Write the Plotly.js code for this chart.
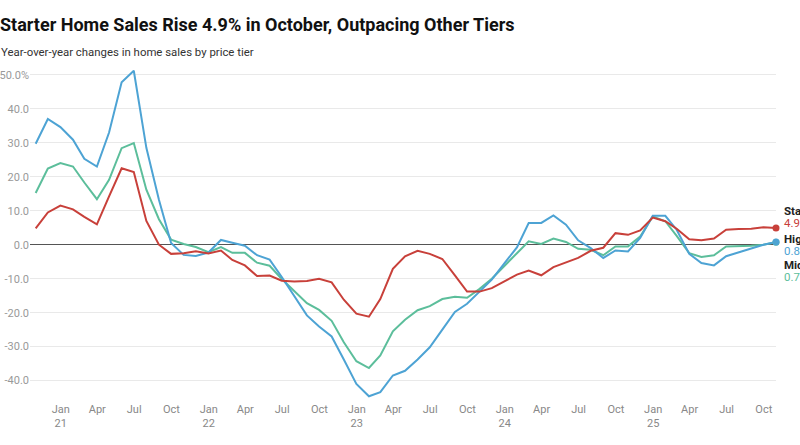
<!DOCTYPE html>
<html>
<head>
<meta charset="utf-8">
<script src="https://cdn.plot.ly/plotly-3.0.1.min.js"></script>
<style>
  html, body { margin: 0; padding: 0; background: #fff; }
  #chart { width: 800px; height: 445px; }
</style>
</head>
<body>
<div id="chart"></div>
<script>
// Months (data month; plotted at month end)
const months = [
  "2020-10","2020-11","2020-12",
  "2021-01","2021-02","2021-03","2021-04","2021-05","2021-06","2021-07","2021-08","2021-09","2021-10","2021-11","2021-12",
  "2022-01","2022-02","2022-03","2022-04","2022-05","2022-06","2022-07","2022-08","2022-09","2022-10","2022-11","2022-12",
  "2023-01","2023-02","2023-03","2023-04","2023-05","2023-06","2023-07","2023-08","2023-09","2023-10","2023-11","2023-12",
  "2024-01","2024-02","2024-03","2024-04","2024-05","2024-06","2024-07","2024-08","2024-09","2024-10","2024-11","2024-12",
  "2025-01","2025-02","2025-03","2025-04","2025-05","2025-06","2025-07","2025-08","2025-09","2025-10"
];

// Year-over-year change in home sales (%)
const starter = [
  4.8, 9.5, 11.5,
  10.4, 8.2, 6.0, 14.2, 22.5, 21.4, 7.0, 0.0, -2.7, -2.5, -1.9, -2.6,
  -1.7, -4.5, -6.1, -9.2, -9.1, -10.6, -10.8, -10.7, -10.0, -11.1, -16.2, -20.3,
  -21.2, -16.0, -7.1, -3.4, -1.8, -2.7, -4.2, -9.0, -13.8, -13.8, -12.8, -10.8,
  -8.8, -7.6, -9.0, -6.6, -5.2, -3.9, -1.8, -0.9, 3.4, 2.9, 4.2, 8.0,
  6.9, 4.7, 1.6, 1.3, 1.8, 4.4, 4.6, 4.7, 5.1, 4.9
];
const highEnd = [
  29.7, 37.0, 34.6,
  30.9, 25.3, 23.0, 33.0, 47.8, 51.2, 28.5, 13.2, 0.5, -3.0, -3.3, -2.3,
  1.4, 0.6, -0.3, -3.1, -4.4, -9.5, -15.3, -20.8, -24.1, -27.0, -33.8, -41.0,
  -44.6, -43.4, -38.5, -37.1, -33.8, -30.2, -25.0, -19.8, -17.4, -13.7, -10.3, -5.5,
  -0.8, 6.4, 6.4, 8.6, 5.9, 1.3, -1.0, -3.9, -1.7, -2.0, 2.0, 8.5,
  8.5, 4.4, -2.7, -5.4, -6.1, -3.4, -2.3, -1.0, 0.0, 0.8
];
const midPriced = [
  15.2, 22.4, 24.0,
  23.0, 18.3, 13.4, 19.1, 28.4, 29.9, 16.2, 7.5, 1.5, 0.2, -0.7, -2.2,
  -0.7, -2.4, -2.4, -5.3, -6.2, -10.1, -13.7, -17.2, -19.2, -22.4, -28.7, -34.3,
  -36.3, -32.6, -25.5, -22.1, -19.3, -18.1, -16.0, -15.3, -15.6, -13.0, -10.0, -6.4,
  -2.5, 1.0, 0.2, 1.8, 0.8, -1.2, -1.5, -3.1, -0.5, -0.5, 2.4, 8.3,
  6.9, 2.6, -2.5, -3.6, -3.1, -0.5, -0.5, -0.3, 0.0, 0.7
];

const seriesNames = ["Starter", "High-End", "Mid-Priced"];

const xTickVals = [
  "2021-01-01","2021-04-01","2021-07-01","2021-10-01",
  "2022-01-01","2022-04-01","2022-07-01","2022-10-01",
  "2023-01-01","2023-04-01","2023-07-01","2023-10-01",
  "2024-01-01","2024-04-01","2024-07-01","2024-10-01",
  "2025-01-01","2025-04-01","2025-07-01","2025-10-01"
];
const xTickText = [
  "Jan<br>21","Apr","Jul","Oct",
  "Jan<br>22","Apr","Jul","Oct",
  "Jan<br>23","Apr","Jul","Oct",
  "Jan<br>24","Apr","Jul","Oct",
  "Jan<br>25","Apr","Jul","Oct"
];
const yTickVals = [50, 40, 30, 20, 10, 0, -10, -20, -30, -40];
const yTickText = ["50.0%", "40.0", "30.0", "20.0", "10.0", "0.0", "-10.0", "-20.0", "-30.0", "-40.0"];

// month end date string for plotting
function monthEnd(m) {
  const [y, mo] = m.split("-").map(Number);
  const d = new Date(Date.UTC(y, mo, 0));
  return d.toISOString().slice(0, 10);
}
const x = months.map(monthEnd);
const lastX = x[x.length - 1];

const RED = "#C8403A", BLUE = "#4DA3D4", GREEN = "#5CBE9B";

function lineTrace(y, color, name) {
  return { x: x, y: y, type: "scatter", mode: "lines", name: name,
           line: { color: color, width: 2 }, hoverinfo: "skip", cliponaxis: false };
}
function endDot(y, color) {
  return { x: [lastX], y: [y[y.length - 1]], type: "scatter", mode: "markers",
           marker: { color: color, size: 7 }, hoverinfo: "skip", cliponaxis: false };
}

const data = [
  lineTrace(midPriced, GREEN, seriesNames[2]),
  lineTrace(highEnd, BLUE, seriesNames[1]),
  lineTrace(starter, RED, seriesNames[0]),
  endDot(midPriced, GREEN),
  endDot(highEnd, BLUE),
  endDot(starter, RED)
];

function fmt(v) { return v.toFixed(1) + "%"; }
const sLast = starter[starter.length - 1];
const hLast = highEnd[highEnd.length - 1];
const mLast = midPriced[midPriced.length - 1];

function endText(text, val, color, bold, yshift) {
  return {
    x: lastX, y: val, xref: "x", yref: "y", xanchor: "left", yanchor: "middle",
    xshift: 7, yshift: yshift, showarrow: false, align: "left", borderpad: 0,
    text: bold ? "<b>" + text + "</b>" : text,
    font: { family: "Roboto", size: 11.5, color: color }
  };
}

function connector(val, color, dx, dy) {
  return {
    type: "line", xref: "x", yref: "y",
    xsizemode: "pixel", ysizemode: "pixel", xanchor: lastX, yanchor: val,
    x0: 0, x1: dx, y0: 0, y1: dy,
    line: { color: color, width: 1, dash: "dot" }
  };
}

const layout = {
  width: 800, height: 445,
  margin: { l: 30, r: 24, t: 68, b: 44 },
  paper_bgcolor: "#fff", plot_bgcolor: "#fff",
  showlegend: false,
  font: { family: "Roboto", color: "#333" },
  title: {
    text: "<b>Starter Home Sales Rise 4.9% in October, Outpacing Other Tiers</b>",
    x: 0, xref: "container", xanchor: "left",
    y: 1 - 25 / 445, yref: "container", yanchor: "middle",
    pad: { l: 0 },
    font: { family: "Roboto", size: 18, color: "#111" }
  },
  xaxis: {
    type: "date",
    range: ["2020-10-17", lastX],
    tickmode: "array", tickvals: xTickVals, ticktext: xTickText,
    showgrid: false, zeroline: false, showline: false, ticks: "",
    tickfont: { family: "Roboto", size: 11, color: "#888" },
    fixedrange: true
  },
  yaxis: {
    range: [-46, 52],
    tickmode: "array", tickvals: yTickVals, ticktext: yTickText,
    showgrid: true, gridcolor: "#e9e9e9", gridwidth: 1,
    zeroline: true, zerolinecolor: "#555", zerolinewidth: 1.3,
    showline: false, ticks: "",
    tickfont: { family: "Roboto", size: 11, color: "#999" },
    fixedrange: true
  },
  annotations: [
    {
      text: "Year-over-year changes in home sales by price tier",
      xref: "paper", yref: "paper", x: 0, y: 1, xanchor: "left", yanchor: "middle",
      xshift: -31, yshift: 16, showarrow: false,
      font: { family: "Roboto", size: 11.4, color: "#333" }
    },
    endText(seriesNames[0], sLast, "#222", true, 17),
    endText(fmt(sLast), sLast, RED, false, 5),
    endText(seriesNames[1], hLast, "#222", true, 3),
    endText(fmt(hLast), hLast, BLUE, false, -9),
    endText(seriesNames[2], mLast, "#222", true, -23),
    endText(fmt(mLast), mLast, GREEN, false, -35)
  ],
  shapes: [
    connector(sLast, RED, 6, 18),
    connector(hLast, BLUE, 6, 5),
    connector(mLast, GREEN, 6, -22)
  ]
};

Plotly.newPlot("chart", data, layout, { displayModeBar: false, staticPlot: true });
</script>
</body>
</html>
